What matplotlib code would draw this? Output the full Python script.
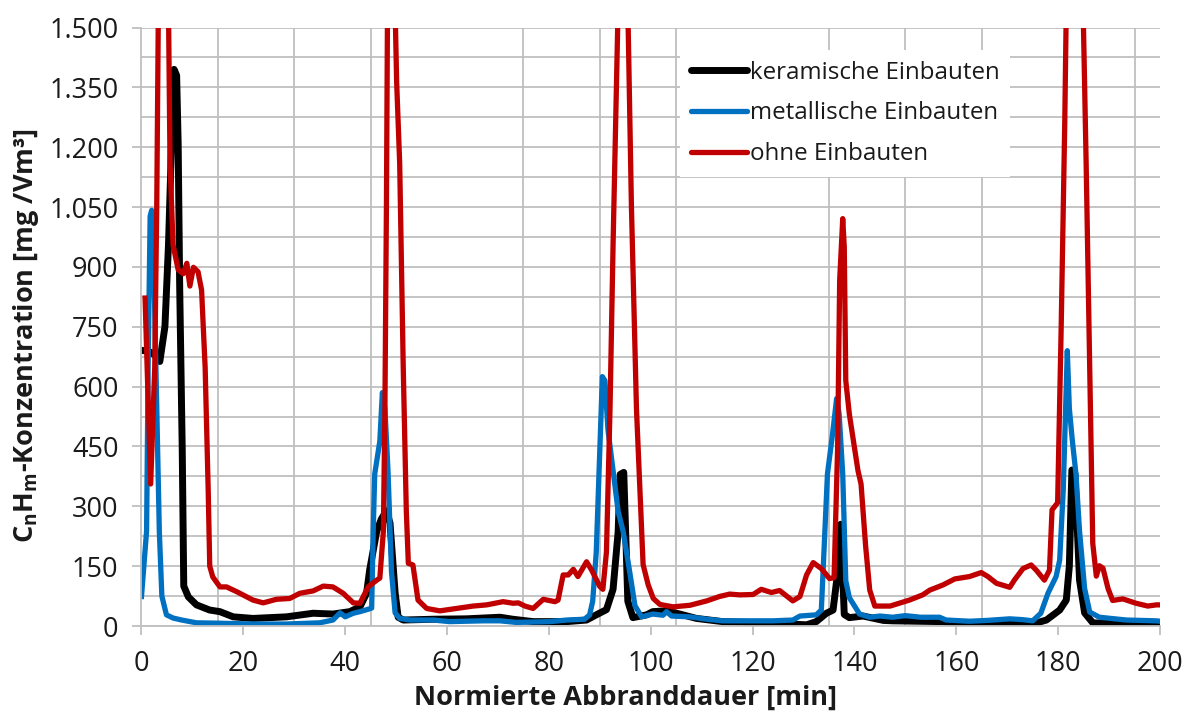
import numpy as np
import matplotlib
matplotlib.use("Agg")
import matplotlib.pyplot as plt
from matplotlib.ticker import MultipleLocator, FuncFormatter

plt.rcParams['font.family'] = ['Open Sans', 'DejaVu Sans']
plt.rcParams['mathtext.fontset'] = 'custom'
plt.rcParams['mathtext.rm'] = 'Open Sans'
plt.rcParams['mathtext.bf'] = 'Open Sans:bold'

# keramische Einbauten
ker_x = [0.5, 1.5, 2.5, 3.6, 4.6, 5.3, 5.9, 6.4, 6.9, 7.2, 7.5, 8.0, 8.3, 9.2, 10.8, 13.4,
         15.4, 18.0, 21.9, 28.5, 33.7, 37.6, 40.9, 42.9, 44.2, 44.8, 46.2, 47.1, 48.1, 48.8,
         49.8, 50.4, 51.4, 57.3, 63.8, 70.4, 72.9, 76.9, 83.5, 87.4, 89.3, 91.3, 92.6, 93.6,
         94.0, 94.7, 95.2, 95.5, 96.5, 99.2, 100.4, 103.1, 105.7, 109.0, 114.1, 124.0, 130.6,
         132.5, 134.5, 135.8, 136.5, 137.3, 138.0, 139.0, 141.7, 145.7, 147.5, 157.3, 160.6,
         167.2, 175.0, 177.7, 180.3, 181.6, 182.2, 182.7, 183.3, 184.2, 185.2, 186.8, 199.3, 200.0]
ker_y = [690, 688, 680, 663, 750, 955, 1211, 1395, 1380, 1211, 852, 443, 100, 73, 53, 40,
         36, 23, 19, 23, 32, 30, 36, 48, 82, 140, 238, 268, 289, 258,
         84, 22, 15, 17, 18, 22, 17, 11, 11, 15, 28, 41, 92, 236,
         380, 385, 185, 62, 21, 28, 36, 38, 30, 19, 11, 7, 3,
         11, 32, 40, 113, 255, 29, 21, 25, 14, 13, 11, 7,
         3, 5, 15, 40, 65, 150, 391, 381, 115, 33, 8, 3, 3]

# metallische Einbauten
met_x = [0.0, 1.0, 1.3, 1.7, 2.0, 2.5, 3.0, 3.5, 4.0, 4.9, 6.2, 7.9, 10.8, 15.4, 21.9, 28.5,
         35.0, 37.6, 39.0, 40.0, 41.6, 42.9, 44.5, 45.2, 45.5, 45.8, 46.8, 47.3, 47.8, 48.4,
         49.1, 49.8, 50.7, 52.7, 57.3, 60.5, 67.1, 70.4, 73.6, 80.2, 83.5, 87.0, 88.0, 88.6,
         89.3, 90.0, 90.5, 91.0, 91.6, 92.6, 93.6, 94.6, 95.9, 96.9, 98.2, 100.4, 102.4, 103.1,
         104.1, 107.7, 111.0, 114.1, 124.0, 127.9, 129.3, 132.5, 133.5, 134.7, 135.7, 136.5,
         137.0, 137.7, 138.3, 139.0, 141.0, 143.0, 145.0, 147.5, 150.0, 153.0, 156.7, 158.0,
         162.6, 166.0, 170.5, 173.0, 175.0, 176.6, 178.0, 179.6, 180.3, 181.0, 181.8, 182.2,
         182.8, 183.5, 184.2, 185.2, 186.2, 188.1, 193.4, 199.3, 200.0]
met_y = [74, 238, 648, 1027, 1042, 852, 545, 238, 75, 28, 20, 15, 8, 7, 5, 5,
         8, 15, 33, 23, 32, 36, 42, 45, 238, 381, 463, 585, 545, 391,
         135, 33, 19, 15, 15, 11, 13, 13, 9, 11, 15, 17, 28, 62,
         185, 441, 625, 615, 492, 390, 287, 236, 133, 51, 23, 30, 27, 36,
         25, 23, 17, 13, 13, 15, 25, 28, 40, 381, 481, 570,
         531, 381, 113, 71, 30, 22, 25, 22, 26, 22, 22, 15,
         12, 14, 18, 16, 13, 32, 82, 124, 165, 340, 690, 545,
         463, 381, 238, 94, 35, 22, 15, 13, 12]

# ohne Einbauten
ohne_x = [0.7, 1.8, 2.6, 3.0, 3.3, 4.3, 5.3, 5.6, 6.2, 7.2, 8.2, 8.9, 9.5, 10.2, 11.1, 11.8,
          12.5, 13.1, 13.4, 14.0, 15.4, 16.7, 18.7, 21.9, 23.9, 26.5, 29.1, 31.1, 33.7, 35.7,
          37.6, 39.6, 41.6, 42.9, 44.5, 46.2, 46.8, 47.5, 47.8, 48.1, 48.3, 49.0, 49.8, 50.1,
          50.7, 51.4, 52.0, 52.4, 53.3, 54.3, 56.0, 58.6, 61.9, 65.1, 67.8, 71.0, 73.0, 74.0,
          75.3, 76.9, 78.9, 81.2, 81.8, 82.8, 83.8, 84.8, 85.7, 87.4, 88.4, 90.0, 90.6, 91.3,
          92.0, 92.6, 93.6, 94.5, 95.5, 96.2, 97.2, 98.5, 99.5, 100.5, 101.8, 104.4, 107.7,
          111.0, 113.5, 115.5, 117.5, 120.1, 121.7, 123.7, 125.3, 127.9, 129.3, 130.6, 131.9,
          133.5, 135.1, 136.0, 136.7, 137.1, 137.7, 138.0, 138.3, 139.0, 140.7, 141.3, 142.2,
          143.0, 144.0, 147.0, 150.8, 153.4, 154.8, 157.4, 159.7, 162.6, 164.9, 166.2, 167.9,
          170.5, 171.4, 173.1, 174.7, 175.7, 177.3, 178.3, 178.8, 179.9, 180.6, 181.3, 181.6,
          183.2, 184.9, 185.5, 186.2, 186.8, 187.5, 188.1, 188.8, 189.8, 190.7, 192.7, 195.3,
          197.6, 199.3, 200.0]
ohne_y = [822, 356, 648, 1057, 1550, 2300, 1550, 1160, 955, 893, 883, 909, 852, 899, 888, 842,
          648, 340, 150, 123, 98, 98, 86, 65, 58, 67, 69, 82, 88, 100,
          98, 82, 58, 57, 98, 115, 120, 238, 545, 1057, 1550, 2300, 1550, 1365,
          1160, 648, 289, 157, 153, 65, 44, 38, 44, 50, 53, 61, 57, 58,
          50, 44, 67, 61, 65, 128, 128, 142, 124, 161, 140, 99, 92, 185,
          544, 954, 1550, 2300, 1550, 1056, 544, 154, 103, 69, 54, 48, 52,
          63, 74, 80, 78, 79, 92, 84, 89, 63, 74, 128, 159,
          144, 119, 121, 448, 866, 1021, 950, 615, 531, 389, 356, 200,
          90, 50, 50, 65, 78, 90, 103, 118, 124, 134, 124, 107,
          97, 115, 144, 153, 140, 115, 140, 291, 309, 750, 1262, 1550,
          2300, 1550, 1160, 648, 207, 125, 151, 145, 94, 64, 68, 57,
          50, 53, 53]

grid_col = '#bfbfbf'
text_col = '#1a1a1a'

fig = plt.figure(figsize=(11.89, 7.13), dpi=100)
ax = fig.add_axes([0.119, 0.122, 0.8566, 0.8394])

ax.plot(ker_x, ker_y, color='black', lw=5.0, solid_joinstyle='round', label='keramische Einbauten')
ax.plot(met_x, met_y, color='#0070c0', lw=3.8, solid_joinstyle='round', label='metallische Einbauten')
ax.plot(ohne_x, ohne_y, color='#c00000', lw=3.8, solid_joinstyle='round', label='ohne Einbauten')

ax.set_xlim(0, 200)
ax.set_ylim(0, 1500)

ax.xaxis.set_major_locator(MultipleLocator(20))
ax.xaxis.set_minor_locator(MultipleLocator(15))
ax.yaxis.set_major_locator(MultipleLocator(150))
ax.yaxis.set_minor_locator(MultipleLocator(75))
ax.yaxis.set_major_formatter(FuncFormatter(lambda v, p: f'{v:,.0f}'.replace(',', '.')))

ax.grid(True, which='minor', color=grid_col, lw=1.3)
ax.grid(False, which='major', axis='x')
ax.grid(True, which='major', axis='y', color=grid_col, lw=1.3)
ax.set_axisbelow(True)

ax.tick_params(which='major', length=6.5, width=1.3, color=grid_col, labelsize=19.5,
               labelcolor=text_col)
ax.tick_params(axis='x', which='major', pad=11)
ax.tick_params(axis='y', which='major', pad=10)
ax.tick_params(which='minor', length=0)
for s in ['top', 'right']:
    ax.spines[s].set_visible(False)
for s in ['left', 'bottom']:
    ax.spines[s].set_color(grid_col)
    ax.spines[s].set_linewidth(1.3)

leg = ax.legend(loc='upper left', bbox_to_anchor=(0.529, 0.963), fontsize=17.4,
                handlelength=2.3, handletextpad=0.12, labelspacing=0.7,
                frameon=True, fancybox=False, borderpad=0.45, borderaxespad=0)
leg.get_frame().set_facecolor('white')
leg.get_frame().set_edgecolor('none')
leg.get_frame().set_alpha(1)
for t in leg.get_texts():
    t.set_color(text_col)
for h in leg.get_lines():
    h.set_solid_capstyle('round')

fig.text(625.5 / 1189, 1 - 698 / 713, 'Normierte Abbranddauer [min]', ha='center', va='center',
         fontsize=19.5, fontweight='bold', color=text_col)
fig.text(26 / 1189, 1 - 336 / 713, r'C$_\mathbf{n}$H$_\mathbf{m}$-Konzentration [mg /Vm³]',
         ha='center', va='center', rotation=90, fontsize=19.5, fontweight='bold', color=text_col)

fig.savefig('out.png', dpi=100)
